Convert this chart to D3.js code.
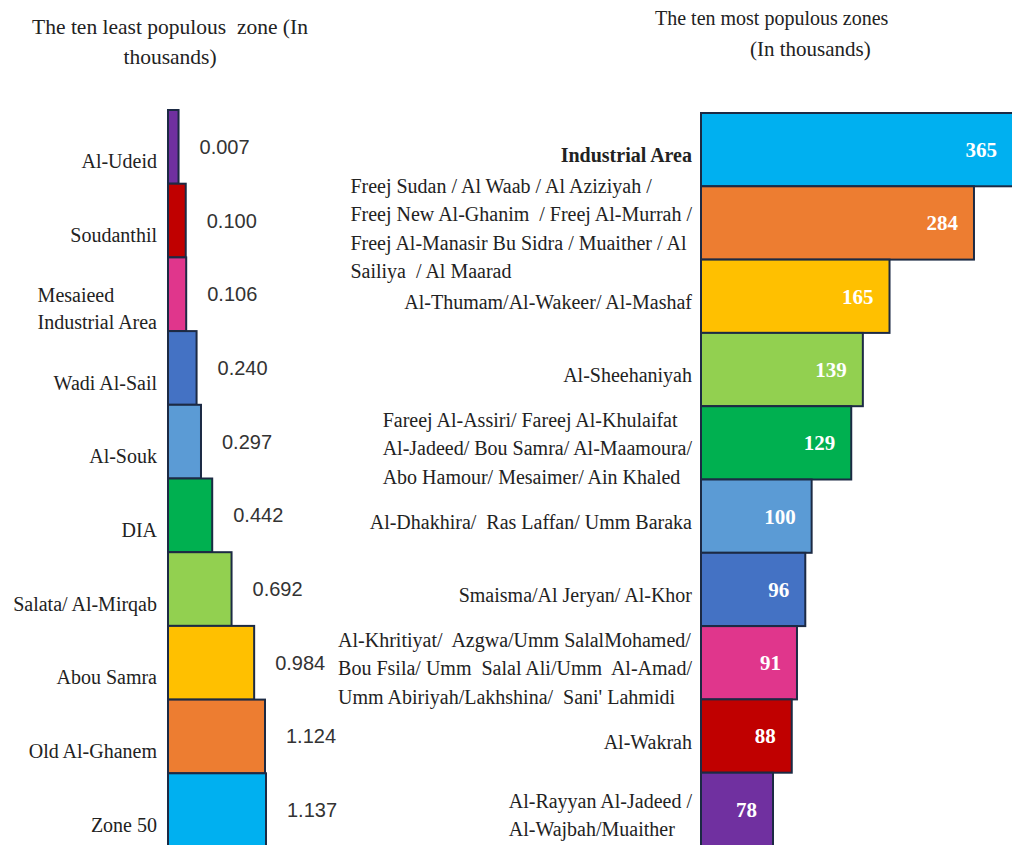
<!DOCTYPE html>
<html>
<head>
<meta charset="utf-8">
<script src="https://cdn.jsdelivr.net/npm/d3@7"></script>
<style>
  html, body { margin: 0; padding: 0; background: #fff; }
  svg { display: block; }
  text { white-space: pre; }
</style>
</head>
<body>
<svg id="chart" width="1012" height="845"></svg>
<script>
// ---------- DATA ----------
const leftTitle = ["The ten least populous  zone (In", "thousands)"];
const rightTitle = ["The ten most populous zones", "(In thousands)"];

const leftCategories = [
  ["Al-Udeid"],
  ["Soudanthil"],
  ["Mesaieed", "Industrial Area"],
  ["Wadi Al-Sail"],
  ["Al-Souk"],
  ["DIA"],
  ["Salata/ Al-Mirqab"],
  ["Abou Samra"],
  ["Old Al-Ghanem"],
  ["Zone 50"]
];
const leftValues = [0.007, 0.100, 0.106, 0.240, 0.297, 0.442, 0.692, 0.984, 1.124, 1.137];
const leftColors = ["#7030a0", "#c00000", "#e0368c", "#4472c4", "#5b9bd5",
                    "#00b050", "#92d050", "#ffc000", "#ed7d31", "#00b0f0"];

const rightCategories = [
  ["Industrial Area"],
  ["Freej Sudan / Al Waab / Al Aziziyah /", "Freej New Al-Ghanim  / Freej Al-Murrah /",
   "Freej Al-Manasir Bu Sidra / Muaither / Al", "Sailiya  / Al Maarad"],
  ["Al-Thumam/Al-Wakeer/ Al-Mashaf"],
  ["Al-Sheehaniyah"],
  ["Fareej Al-Assiri/ Fareej Al-Khulaifat", "Al-Jadeed/ Bou Samra/ Al-Maamoura/",
   "Abo Hamour/ Mesaimer/ Ain Khaled"],
  ["Al-Dhakhira/  Ras Laffan/ Umm Baraka"],
  ["Smaisma/Al Jeryan/ Al-Khor"],
  ["Al-Khritiyat/  Azgwa/Umm SalalMohamed/", "Bou Fsila/ Umm  Salal Ali/Umm  Al-Amad/",
   "Umm Abiriyah/Lakhshina/  Sani' Lahmidi"],
  ["Al-Wakrah"],
  ["Al-Rayyan Al-Jadeed /", "Al-Wajbah/Muaither"]
];
const rightValues = [365, 284, 165, 139, 129, 100, 96, 91, 88, 78];
const rightColors = ["#00b0f0", "#ed7d31", "#ffc000", "#92d050", "#00b050",
                     "#5b9bd5", "#4472c4", "#e0368c", "#c00000", "#7030a0"];

// ---------- DRAW ----------
const svg = d3.select("#chart");
svg.append("rect").attr("width", 1012).attr("height", 845).attr("fill", "#fff");

const serif = "'Liberation Serif', 'Times New Roman', serif";
const sans = "'Liberation Sans', Arial, sans-serif";
const stroke = "#1c2a44";
const textColor = "#222";

// Titles
const lt = svg.append("g").attr("font-family", serif).attr("font-size", 21.5).attr("fill", textColor);
lt.selectAll("text").data(leftTitle).join("text")
  .attr("x", 170).attr("y", (d, i) => 34 + i * 30)
  .attr("text-anchor", "middle").text(d => d);

const rt = svg.append("g").attr("font-family", serif).attr("font-size", 20).attr("fill", textColor);
rt.append("text").attr("x", 655).attr("y", 25).text(rightTitle[0]);
rt.append("text").attr("x", 750).attr("y", 56).attr("font-size", 21).text(rightTitle[1]);

// helper: block of lines, left-aligned inside, block right edge at xRight
function labelBlock(g, lines, xRight, yCenter, lh, fontSize, bold) {
  const blk = g.append("g");
  const ts = blk.selectAll("text").data(lines).join("text")
    .attr("x", 0)
    .attr("y", (d, i) => (i - (lines.length - 1) / 2) * lh + fontSize * 0.33)
    .attr("font-weight", bold ? "bold" : null)
    .text(d => d);
  let maxW = 0;
  ts.each(function () { maxW = Math.max(maxW, this.getComputedTextLength()); });
  blk.attr("transform", `translate(${xRight - maxW},${yCenter})`);
}

// ----- LEFT CHART -----
const lx0 = 168;
const ly = d3.scaleBand().domain(d3.range(leftValues.length)).range([110, 847]).padding(0);
const lw = d3.scaleLinear().domain([0, 1.137]).range([10, 98]);

const lg = svg.append("g");
lg.selectAll("rect").data(leftValues).join("rect")
  .attr("x", lx0)
  .attr("y", (d, i) => ly(i))
  .attr("width", d => lw(d))
  .attr("height", ly.bandwidth())
  .attr("fill", (d, i) => leftColors[i])
  .attr("stroke", stroke).attr("stroke-width", 2);

const lfmt = d3.format(".3f");
lg.append("g").attr("font-family", sans).attr("font-size", 20).attr("fill", "#333")
  .selectAll("text").data(leftValues).join("text")
  .attr("x", d => lx0 + lw(d) + 21)
  .attr("y", (d, i) => ly(i) + ly.bandwidth() / 2)
  .attr("dy", "0.35em")
  .text(d => lfmt(d));

const llab = lg.append("g").attr("font-family", serif).attr("font-size", 20).attr("fill", textColor);
leftCategories.forEach((lines, i) => {
  labelBlock(llab, lines, 157, ly(i) + ly.bandwidth() / 2 + 15, 27, 20, false);
});

// ----- RIGHT CHART -----
const rx0 = 701;
const ry = d3.scaleBand().domain(d3.range(rightValues.length)).range([113, 846]).padding(0);
const rw = d3.scaleLog().domain([78, 365]).range([72, 312]);

const rg = svg.append("g");
rg.selectAll("rect").data(rightValues).join("rect")
  .attr("x", rx0)
  .attr("y", (d, i) => ry(i))
  .attr("width", d => rw(d))
  .attr("height", ry.bandwidth())
  .attr("fill", (d, i) => rightColors[i])
  .attr("stroke", stroke).attr("stroke-width", 2);

rg.append("g").attr("font-family", serif).attr("font-size", 21).attr("font-weight", "bold").attr("fill", "#fff")
  .selectAll("text").data(rightValues).join("text")
  .attr("x", d => rx0 + rw(d) - 16)
  .attr("y", (d, i) => ry(i) + ry.bandwidth() / 2)
  .attr("dy", "0.35em")
  .attr("text-anchor", "end")
  .text(d => d);

const rlab = rg.append("g").attr("font-family", serif).attr("font-size", 20).attr("fill", textColor);
rightCategories.forEach((lines, i) => {
  labelBlock(rlab, lines, 692, ry(i) + ry.bandwidth() / 2 + 6, 28.5, 20, i === 0);
});
</script>
</body>
</html>
